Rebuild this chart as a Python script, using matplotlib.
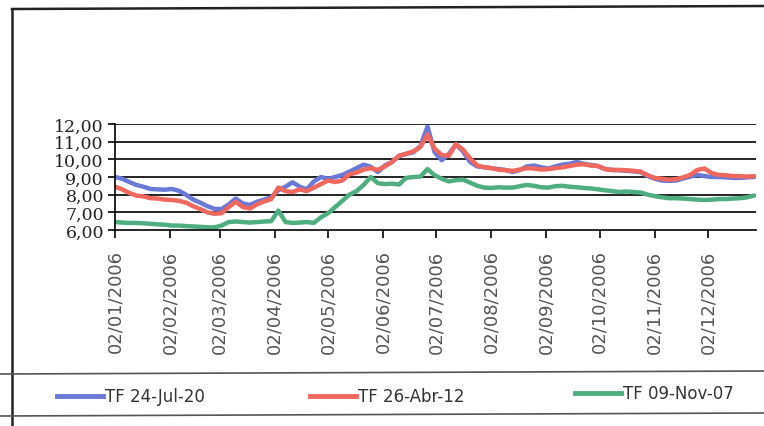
import numpy as np
import pandas as pd
import matplotlib
matplotlib.use("Agg")
import matplotlib.pyplot as plt
import matplotlib.dates as mdates
from matplotlib.lines import Line2D
from matplotlib.ticker import FuncFormatter

# fechas de la serie (cada 4 dias durante 2006)
fechas = pd.date_range("2006-01-02", periods=91, freq="4D")

tf_jul20 = [9.00, 8.90, 8.72, 8.55, 8.45, 8.32, 8.30, 8.28, 8.32, 8.22,
            8.00, 7.72, 7.55, 7.35, 7.20, 7.18, 7.45, 7.78, 7.50, 7.42,
            7.60, 7.72, 7.85, 8.25, 8.45, 8.70, 8.45, 8.30, 8.75, 9.00,
            8.90, 9.00, 9.12, 9.30, 9.50, 9.70, 9.58, 9.28, 9.65, 9.85,
            10.20, 10.30, 10.40, 10.75, 11.85, 10.40, 9.95, 10.30, 10.85, 10.45,
            9.85, 9.60, 9.55, 9.50, 9.45, 9.40, 9.28, 9.40, 9.60, 9.65,
            9.55, 9.48, 9.60, 9.70, 9.75, 9.85, 9.75, 9.68, 9.62, 9.45,
            9.40, 9.38, 9.35, 9.32, 9.28, 9.05, 8.90, 8.80, 8.78, 8.80,
            8.92, 9.02, 9.12, 9.05, 9.00, 9.00, 8.98, 8.95, 8.95, 8.98,
            9.00]

tf_abr12 = [8.45, 8.30, 8.10, 7.95, 7.90, 7.80, 7.78, 7.72, 7.70, 7.65,
            7.55, 7.35, 7.18, 7.00, 6.92, 6.95, 7.30, 7.60, 7.30, 7.22,
            7.45, 7.62, 7.75, 8.40, 8.20, 8.15, 8.30, 8.20, 8.40, 8.60,
            8.80, 8.72, 8.80, 9.15, 9.25, 9.42, 9.50, 9.40, 9.60, 9.85,
            10.20, 10.32, 10.45, 10.70, 11.40, 10.60, 10.25, 10.20, 10.85, 10.55,
            10.05, 9.65, 9.55, 9.50, 9.42, 9.38, 9.35, 9.42, 9.50, 9.48,
            9.42, 9.45, 9.50, 9.55, 9.62, 9.70, 9.72, 9.65, 9.62, 9.45,
            9.40, 9.40, 9.38, 9.35, 9.30, 9.10, 8.95, 8.90, 8.85, 8.88,
            8.98, 9.12, 9.40, 9.48, 9.22, 9.12, 9.10, 9.05, 9.05, 9.02,
            9.05]

tf_nov07 = [6.45, 6.42, 6.40, 6.40, 6.38, 6.35, 6.32, 6.30, 6.25, 6.25,
            6.22, 6.20, 6.18, 6.15, 6.15, 6.25, 6.45, 6.48, 6.45, 6.42,
            6.45, 6.48, 6.50, 7.10, 6.45, 6.40, 6.42, 6.45, 6.40, 6.72,
            6.95, 7.30, 7.65, 8.00, 8.20, 8.55, 9.00, 8.65, 8.60, 8.62,
            8.58, 8.95, 9.00, 9.02, 9.45, 9.10, 8.90, 8.75, 8.82, 8.85,
            8.68, 8.50, 8.40, 8.38, 8.42, 8.40, 8.40, 8.48, 8.55, 8.50,
            8.42, 8.40, 8.48, 8.50, 8.45, 8.42, 8.38, 8.35, 8.30, 8.25,
            8.20, 8.15, 8.18, 8.15, 8.12, 8.00, 7.92, 7.85, 7.80, 7.80,
            7.78, 7.75, 7.72, 7.70, 7.72, 7.75, 7.75, 7.78, 7.80, 7.85,
            7.95]

nombres = ["TF 24-Jul-20", "TF 26-Abr-12", "TF 09-Nov-07"]
colores = ["#6a78d6", "#f0675e", "#4fae7f"]
series = [tf_jul20, tf_abr12, tf_nov07]

fig = plt.figure(figsize=(7.64, 4.27), dpi=100)
ax = fig.add_axes([115 / 764, 1 - 231 / 427, 641 / 764, 106 / 427])

# verde al fondo, rojo encima del azul
for i in [2, 0, 1]:
    ax.plot(fechas, series[i], color=colores[i], lw=3.2, solid_capstyle="round")

ax.set_ylim(6, 12)
ax.set_xlim(pd.Timestamp("2006-01-02"), pd.Timestamp("2006-12-29"))
ax.set_yticks(range(6, 13))
ax.yaxis.set_major_formatter(FuncFormatter(lambda v, p: f"{v:.2f}".replace(".", ",")))
for v in range(7, 13):
    ax.axhline(v, color="black", lw=1.2, zorder=0)

# marcas el dia 2 de cada mes
meses = pd.date_range("2006-01-01", periods=12, freq="MS") + pd.Timedelta(days=1)
ax.set_xticks(meses)
ax.xaxis.set_major_formatter(mdates.DateFormatter("%d/%m/%Y"))

for s in ["top", "right"]:
    ax.spines[s].set_visible(False)
ax.spines["left"].set_linewidth(1.2)
ax.spines["bottom"].set_linewidth(1.2)

ax.tick_params(axis="x", direction="out", length=6, width=1.2, pad=8,
               labelrotation=90, labelsize=13, labelcolor="#555555")
ax.tick_params(axis="y", direction="out", length=5, width=1.2, pad=3,
               labelsize=12.5, labelcolor="#222222")
for lab in ax.get_yticklabels():
    lab.set_family("DejaVu Serif")

# marco exterior y caja de la leyenda
def linea(x0, y0, x1, y1, lw=1.5, c="#222222"):
    fig.add_artist(Line2D([x0 / 764, x1 / 764], [1 - y0 / 427, 1 - y1 / 427],
                          color=c, lw=lw))

linea(12, 10, 764, 7, lw=1.8)
linea(12, 10, 12, 427, lw=1.8)
linea(0, 375, 764, 372, lw=1.2, c="#555555")
linea(0, 417, 764, 414, lw=1.2, c="#555555")

pos_leyenda = [57, 310, 575]
for i in range(3):
    x0 = pos_leyenda[i]
    yl = 397 if i < 2 else 394
    fig.add_artist(Line2D([x0 / 764, (x0 + 46) / 764], [1 - yl / 427, 1 - yl / 427],
                          color=colores[i], lw=3.5))
    fig.text((x0 + 48) / 764, 1 - yl / 427, nombres[i], fontsize=12,
             color="#333333", va="center", ha="left")

fig.savefig("out.png", dpi=100, facecolor="white")
